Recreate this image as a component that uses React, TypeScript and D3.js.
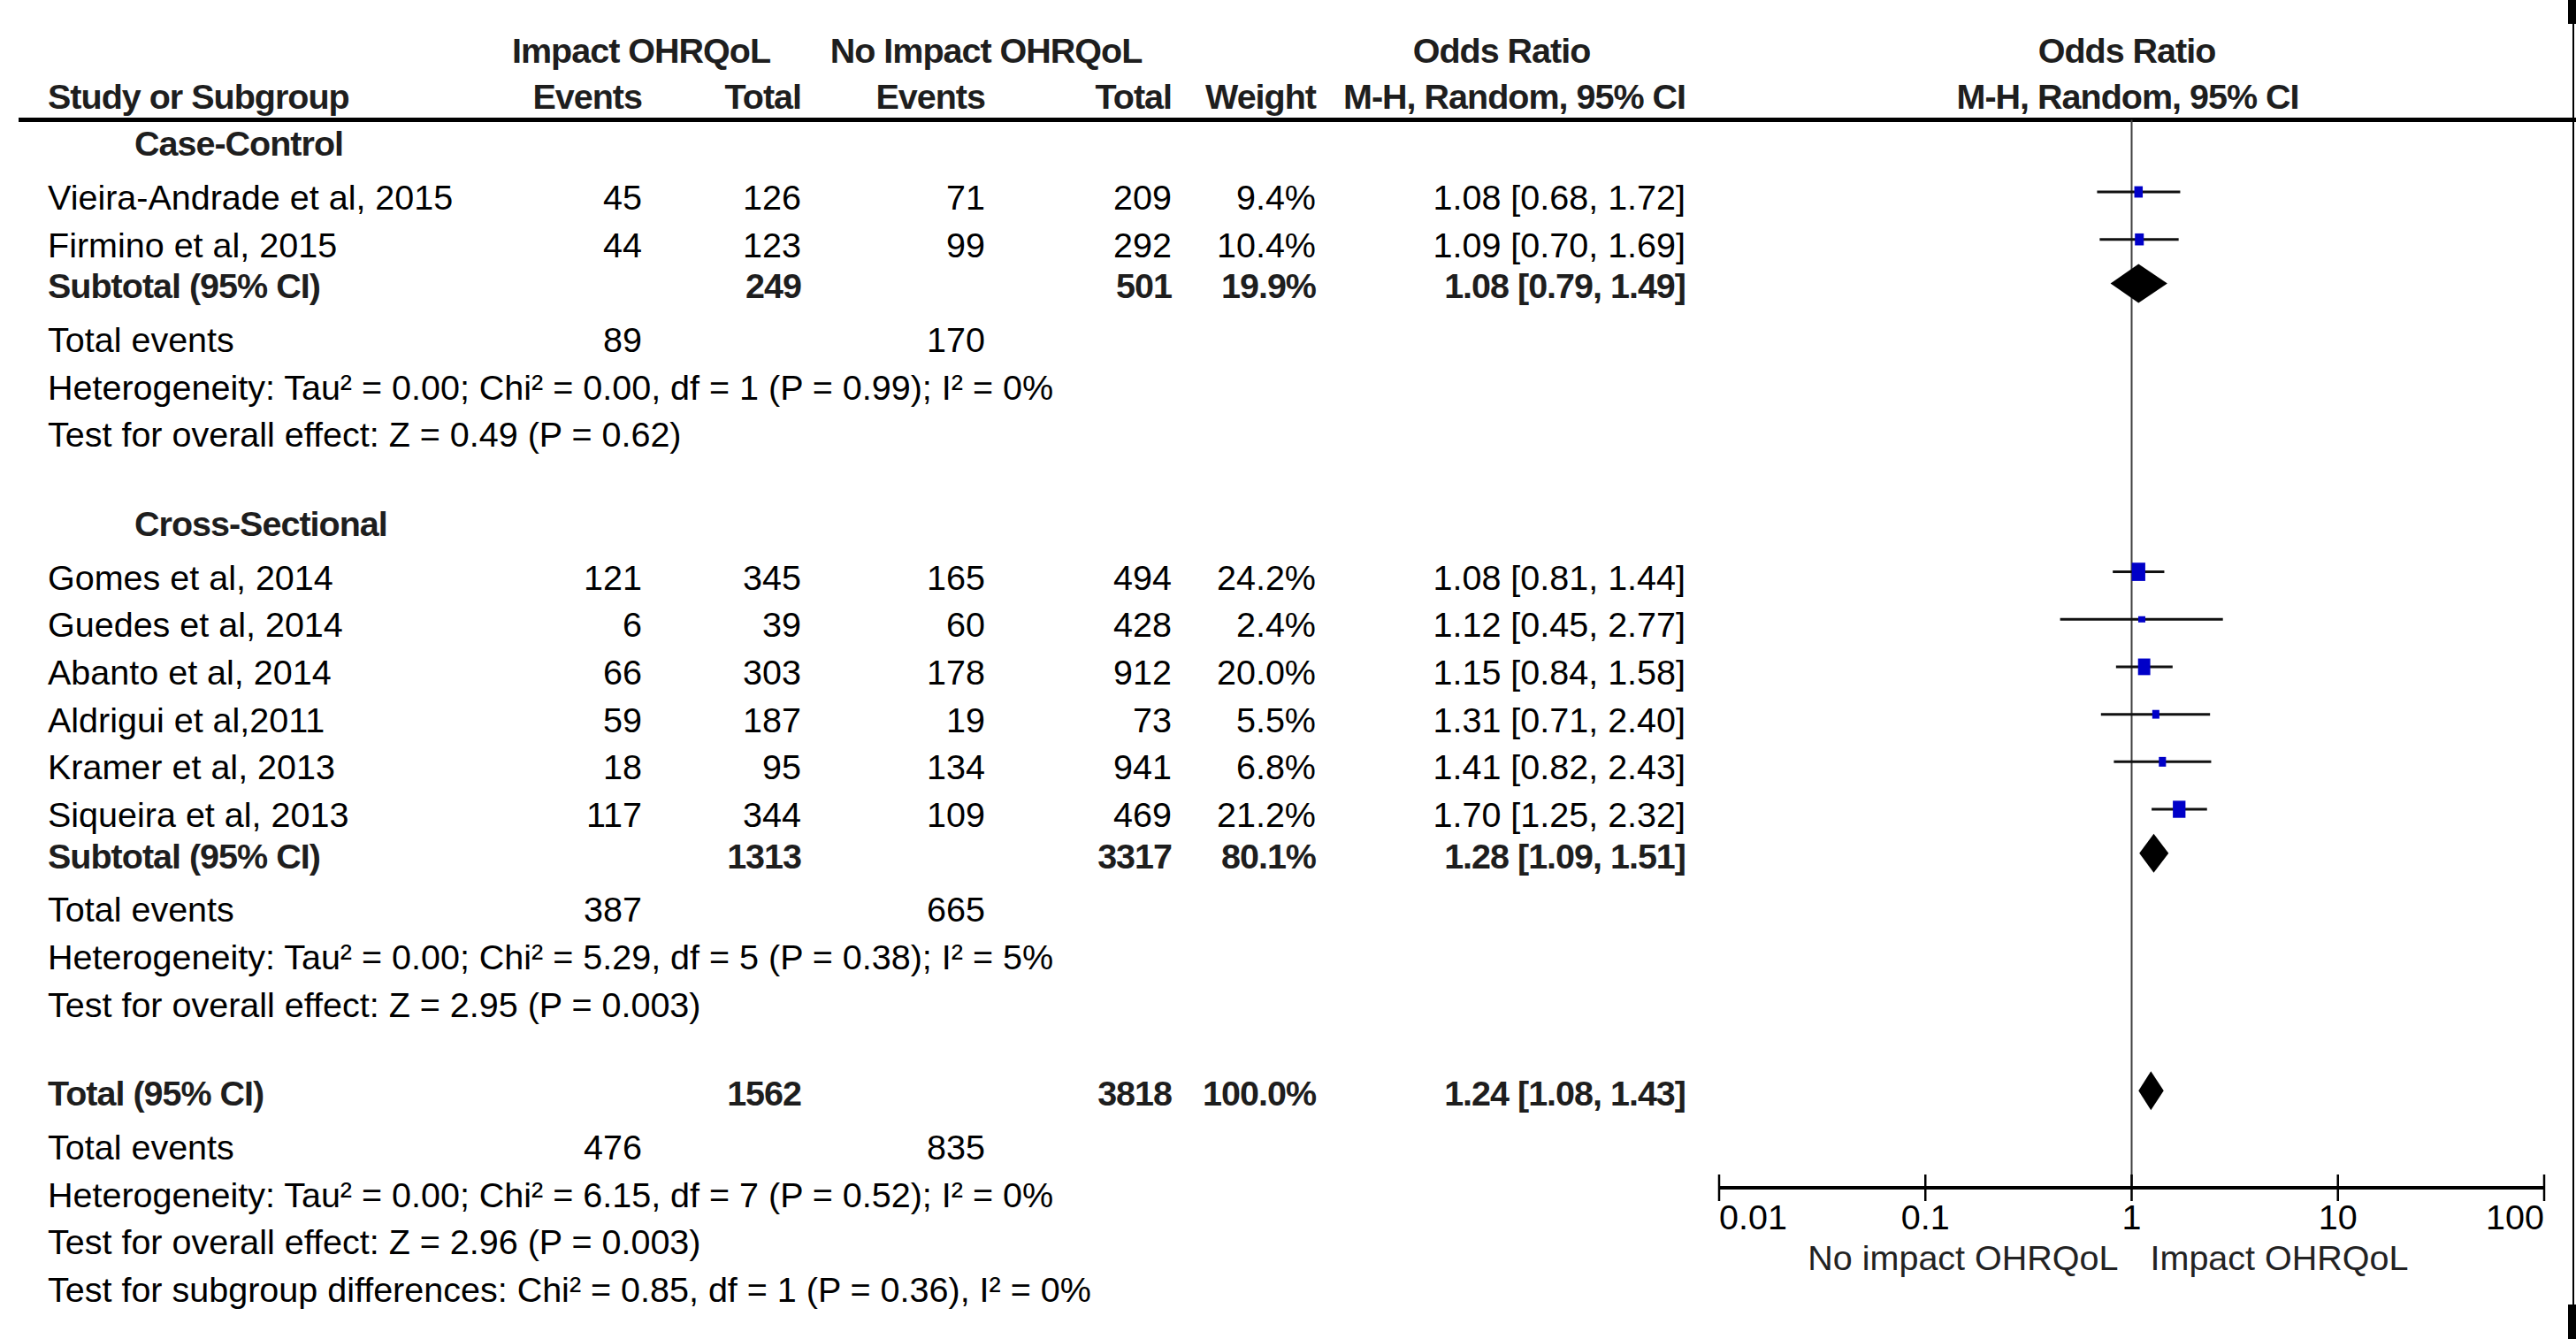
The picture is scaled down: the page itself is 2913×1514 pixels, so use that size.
import React from "react";
import * as d3 from "d3";

// ---------- data ----------
const studyNames = [
  "Vieira-Andrade et al, 2015",
  "Firmino et al, 2015",
  "Gomes et al, 2014",
  "Guedes et al, 2014",
  "Abanto et al, 2014",
  "Aldrigui et al,2011",
  "Kramer et al, 2013",
  "Siqueira et al, 2013",
];
const studyGroup = [0, 0, 1, 1, 1, 1, 1, 1];
const impactEvents = [45, 44, 121, 6, 66, 59, 18, 117];
const impactTotal = [126, 123, 345, 39, 303, 187, 95, 344];
const noImpactEvents = [71, 99, 165, 60, 178, 19, 134, 109];
const noImpactTotal = [209, 292, 494, 428, 912, 73, 941, 469];
const weights = [9.4, 10.4, 24.2, 2.4, 20.0, 5.5, 6.8, 21.2];
const oddsRatio = [1.08, 1.09, 1.08, 1.12, 1.15, 1.31, 1.41, 1.7];
const ciLow = [0.68, 0.7, 0.81, 0.45, 0.84, 0.71, 0.82, 1.25];
const ciHigh = [1.72, 1.69, 1.44, 2.77, 1.58, 2.4, 2.43, 2.32];

const subgroupNames = ["Case-Control", "Cross-Sectional"];
const subImpactTotal = [249, 1313];
const subNoImpactTotal = [501, 3317];
const subWeight = [19.9, 80.1];
const subOR = [1.08, 1.28];
const subLow = [0.79, 1.09];
const subHigh = [1.49, 1.51];
const subImpactEvents = [89, 387];
const subNoImpactEvents = [170, 665];
const subHeterogeneity = [
  "Heterogeneity: Tau² = 0.00; Chi² = 0.00, df = 1 (P = 0.99); I² = 0%",
  "Heterogeneity: Tau² = 0.00; Chi² = 5.29, df = 5 (P = 0.38); I² = 5%",
];
const subOverall = [
  "Test for overall effect: Z = 0.49 (P = 0.62)",
  "Test for overall effect: Z = 2.95 (P = 0.003)",
];

const totalLabel = "Total (95% CI)";
const totalImpactTotal = 1562;
const totalNoImpactTotal = 3818;
const totalWeight = 100.0;
const totalOR = 1.24;
const totalLow = 1.08;
const totalHigh = 1.43;
const totalImpactEvents = 476;
const totalNoImpactEvents = 835;
const totalFootnotes = [
  "Heterogeneity: Tau² = 0.00; Chi² = 6.15, df = 7 (P = 0.52); I² = 0%",
  "Test for overall effect: Z = 2.96 (P = 0.003)",
  "Test for subgroup differences: Chi² = 0.85, df = 1 (P = 0.36), I² = 0%",
];

const axisTicks = [0.01, 0.1, 1, 10, 100];
const axisTickLabels = ["0.01", "0.1", "1", "10", "100"];
const favoursLeft = "No impact OHRQoL";
const favoursRight = "Impact OHRQoL";

// ---------- layout ----------
const W = 2913;
const H = 1514;
const FONT = "'Liberation Sans', Arial, Helvetica, sans-serif";
const FS = 39.5;
const BOLD_SHIFT = -7;
const COL = {
  name: 54,
  group: 152,
  impEv: 726,
  impTot: 906,
  noEv: 1114,
  noTot: 1325,
  weight: 1488,
  orText: 1906,
};

const x = d3.scaleLog().domain([0.01, 100]).range([1944, 2877]);
const rowY = d3.scaleLinear().domain([0, 23]).range([237, 1472]);
const AXIS_Y = 1343;
const HEADER_RULE_Y = 135.5;

const fmtOR = (o: number, l: number, h: number) =>
  `${o.toFixed(2)} [${l.toFixed(2)}, ${h.toFixed(2)}]`;
const fmtW = (w: number) => `${w.toFixed(1)}%`;

type Row =
  | { kind: "group"; idx: number; label: string }
  | { kind: "study"; idx: number; i: number }
  | { kind: "sub"; idx: number; g: number }
  | { kind: "events"; idx: number; a: number; b: number }
  | { kind: "note"; idx: number; text: string }
  | { kind: "total"; idx: number };

function buildRows(): Row[] {
  const rows: Row[] = [];
  let idx = -1;
  subgroupNames.forEach((name, g) => {
    rows.push({ kind: "group", idx: idx++, label: name });
    studyNames.forEach((_, i) => {
      if (studyGroup[i] === g) rows.push({ kind: "study", idx: idx++, i });
    });
    rows.push({ kind: "sub", idx: idx++, g });
    rows.push({ kind: "events", idx: idx++, a: subImpactEvents[g], b: subNoImpactEvents[g] });
    rows.push({ kind: "note", idx: idx++, text: subHeterogeneity[g] });
    rows.push({ kind: "note", idx: idx++, text: subOverall[g] });
    idx++; // blank line
  });
  rows.push({ kind: "total", idx: idx++ });
  rows.push({ kind: "events", idx: idx++, a: totalImpactEvents, b: totalNoImpactEvents });
  totalFootnotes.forEach((t) => rows.push({ kind: "note", idx: idx++, text: t }));
  return rows;
}

const T = (props: any) => {
  const { bold, children, ...rest } = props;
  return (
    <text
      fontFamily={FONT}
      fontSize={FS}
      fontWeight={bold ? "bold" : "normal"}
      letterSpacing={bold ? -1 : 0}
      fill={bold ? "#1e1e1e" : "#000"}
      {...rest}
    >
      {children}
    </text>
  );
};

function Diamond({ lo, hi, est, cy }: { lo: number; hi: number; est: number; cy: number }) {
  const hh = 22;
  const pts = [
    [x(lo), cy],
    [x(est), cy - hh],
    [x(hi), cy],
    [x(est), cy + hh],
  ];
  return <polygon points={pts.map((p) => p.join(",")).join(" ")} fill="#000" />;
}

export default function App() {
  const rows = buildRows();
  const yb = (idx: number, bold = false) => rowY(idx) + (bold ? BOLD_SHIFT : 0);
  const hy1 = yb(-3, true) + 2;
  const hy2 = yb(-2, true);

  return (
    <svg
      width={W}
      height={H}
      viewBox={`0 0 ${W} ${H}`}
      style={{ position: "absolute", left: 0, top: 0, display: "block", background: "#fff" }}
    >
      <rect x={0} y={0} width={W} height={H} fill="#fff" />

      {/* headers */}
      <T bold x={725} y={hy1} textAnchor="middle">Impact OHRQoL</T>
      <T bold x={1115} y={hy1} textAnchor="middle">No Impact OHRQoL</T>
      <T bold x={1698} y={hy1} textAnchor="middle">Odds Ratio</T>
      <T bold x={2405} y={hy1} textAnchor="middle">Odds Ratio</T>
      <T bold x={COL.name} y={hy2}>Study or Subgroup</T>
      <T bold x={COL.impEv} y={hy2} textAnchor="end">Events</T>
      <T bold x={COL.impTot} y={hy2} textAnchor="end">Total</T>
      <T bold x={COL.noEv} y={hy2} textAnchor="end">Events</T>
      <T bold x={COL.noTot} y={hy2} textAnchor="end">Total</T>
      <T bold x={COL.weight} y={hy2} textAnchor="end">Weight</T>
      <T bold x={COL.orText} y={hy2} textAnchor="end">M-H, Random, 95% CI</T>
      <T bold x={2406} y={hy2} textAnchor="middle">M-H, Random, 95% CI</T>
      <line x1={21} x2={W} y1={HEADER_RULE_Y} y2={HEADER_RULE_Y} stroke="#000" strokeWidth={5} />

      {/* null line */}
      <line x1={x(1)} x2={x(1)} y1={HEADER_RULE_Y} y2={AXIS_Y} stroke="#404040" strokeWidth={2} />

      {rows.map((r, k) => {
        if (r.kind === "group") {
          return (
            <T key={k} bold x={COL.group} y={yb(r.idx, true)}>
              {r.label}
            </T>
          );
        }
        if (r.kind === "study") {
          const i = r.i;
          const y = yb(r.idx);
          const cy = y - 20;
          const sw = Math.max(8, 3.1 * Math.sqrt(weights[i]));
          const sh = Math.max(7, 4.2 * Math.sqrt(weights[i]));
          return (
            <g key={k}>
              <T x={COL.name} y={y}>{studyNames[i]}</T>
              <T x={COL.impEv} y={y} textAnchor="end">{impactEvents[i]}</T>
              <T x={COL.impTot} y={y} textAnchor="end">{impactTotal[i]}</T>
              <T x={COL.noEv} y={y} textAnchor="end">{noImpactEvents[i]}</T>
              <T x={COL.noTot} y={y} textAnchor="end">{noImpactTotal[i]}</T>
              <T x={COL.weight} y={y} textAnchor="end">{fmtW(weights[i])}</T>
              <T x={COL.orText} y={y} textAnchor="end">{fmtOR(oddsRatio[i], ciLow[i], ciHigh[i])}</T>
              <line x1={x(ciLow[i])} x2={x(ciHigh[i])} y1={cy} y2={cy} stroke="#111" strokeWidth={3} />
              <rect x={x(oddsRatio[i]) - sw / 2} y={cy - sh / 2} width={sw} height={sh} fill="#0000C8" />
            </g>
          );
        }
        if (r.kind === "sub") {
          const g = r.g;
          const y = yb(r.idx, true);
          return (
            <g key={k}>
              <T bold x={COL.name} y={y}>Subtotal (95% CI)</T>
              <T bold x={COL.impTot} y={y} textAnchor="end">{subImpactTotal[g]}</T>
              <T bold x={COL.noTot} y={y} textAnchor="end">{subNoImpactTotal[g]}</T>
              <T bold x={COL.weight} y={y} textAnchor="end">{fmtW(subWeight[g])}</T>
              <T bold x={COL.orText} y={y} textAnchor="end">{fmtOR(subOR[g], subLow[g], subHigh[g])}</T>
              <Diamond lo={subLow[g]} hi={subHigh[g]} est={subOR[g]} cy={y - 17} />
            </g>
          );
        }
        if (r.kind === "total") {
          const y = yb(r.idx, true);
          return (
            <g key={k}>
              <T bold x={COL.name} y={y}>{totalLabel}</T>
              <T bold x={COL.impTot} y={y} textAnchor="end">{totalImpactTotal}</T>
              <T bold x={COL.noTot} y={y} textAnchor="end">{totalNoImpactTotal}</T>
              <T bold x={COL.weight} y={y} textAnchor="end">{fmtW(totalWeight)}</T>
              <T bold x={COL.orText} y={y} textAnchor="end">{fmtOR(totalOR, totalLow, totalHigh)}</T>
              <Diamond lo={totalLow} hi={totalHigh} est={totalOR} cy={y - 17} />
            </g>
          );
        }
        if (r.kind === "events") {
          const y = yb(r.idx);
          return (
            <g key={k}>
              <T x={COL.name} y={y}>Total events</T>
              <T x={COL.impEv} y={y} textAnchor="end">{r.a}</T>
              <T x={COL.noEv} y={y} textAnchor="end">{r.b}</T>
            </g>
          );
        }
        return (
          <T key={k} x={COL.name} y={yb(r.idx)}>
            {r.text}
          </T>
        );
      })}

      {/* axis */}
      <line x1={x(0.01)} x2={x(100)} y1={AXIS_Y} y2={AXIS_Y} stroke="#000" strokeWidth={4} />
      {axisTicks.map((t, i) => (
        <g key={t}>
          <line x1={x(t)} x2={x(t)} y1={AXIS_Y - 15} y2={AXIS_Y + 15} stroke="#000" strokeWidth={2.5} />
          <T
            x={x(t)}
            y={AXIS_Y + 47}
            textAnchor={i === 0 ? "start" : i === axisTicks.length - 1 ? "end" : "middle"}
          >
            {axisTickLabels[i]}
          </T>
        </g>
      ))}
      <T x={x(1) - 15} y={AXIS_Y + 93} textAnchor="end" fill="#222">{favoursLeft}</T>
      <T x={x(1) + 21} y={AXIS_Y + 93} textAnchor="start" fill="#222">{favoursRight}</T>

      {/* right border artifacts */}
      <line x1={2910} x2={2910} y1={27} y2={1475} stroke="#000" strokeWidth={2} />
      <rect x={2904} y={0} width={9} height={27} fill="#000" />
      <rect x={2904} y={1475} width={9} height={39} fill="#000" />
    </svg>
  );
}
